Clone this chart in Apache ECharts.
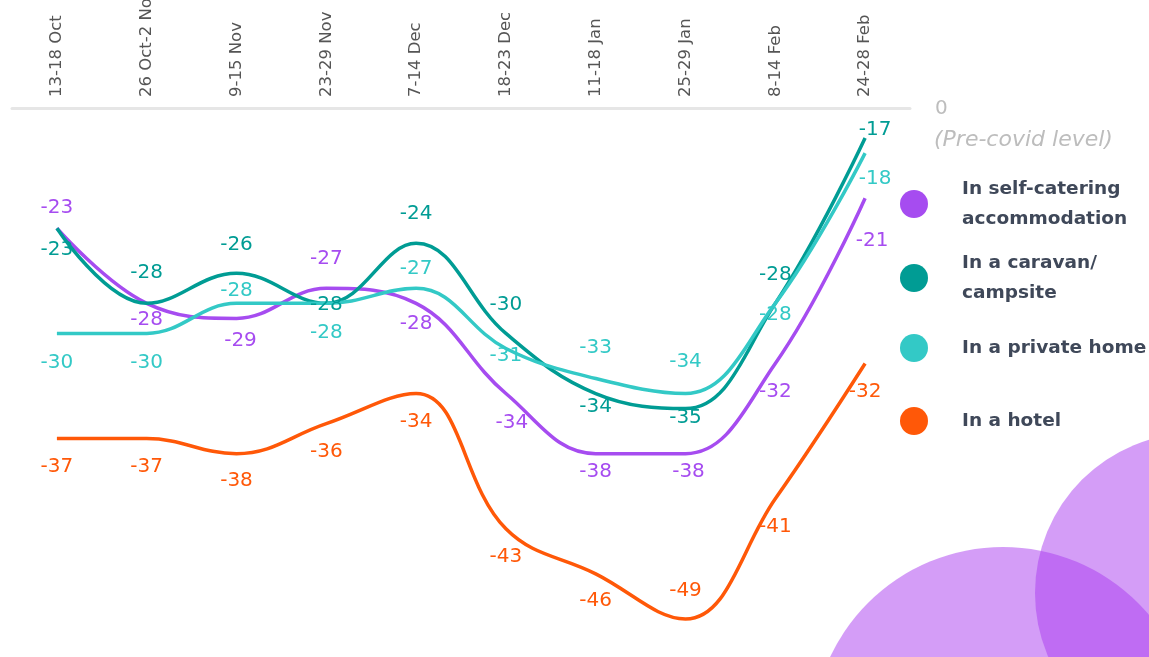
<!DOCTYPE html>
<html>
<head>
<meta charset="utf-8">
<script src="https://cdn.jsdelivr.net/npm/echarts@6/dist/echarts.min.js"></script>
<style>
  html, body { margin: 0; padding: 0; background: #fff; }
  #chart { width: 1149px; height: 657px; }
</style>
</head>
<body>
<div id="chart"></div>
<script>
// weeks surveyed
const categories = ['13-18 Oct', '26 Oct-2 Nov', '9-15 Nov', '23-29 Nov', '7-14 Dec',
  '18-23 Dec', '11-18 Jan', '25-29 Jan', '8-14 Feb', '24-28 Feb'];

// change vs pre-covid level
const selfCatering = [-23, -28, -29, -27, -28, -34, -38, -38, -32, -21];
const caravan = [-23, -28, -26, -28, -24, -30, -34, -35, -28, -17];
const privateHome = [-30, -30, -28, -28, -27, -31, -33, -34, -28, -18];
const hotel = [-37, -37, -38, -36, -34, -43, -46, -49, -41, -32];

// where each value label sits around its point
const selfOff = [[0, -20], [0, 16], [4, 22], [0, -30], [0, 20], [6, 29], [0, 18], [3, 18], [0, 28], [7, 43]];
const caravanOff = [[0, 22], [0, -31], [0, -29], [0, 1], [0, -29], [0, -29], [0, 13], [0, 9], [0, -29], [10, -8]];
const homeOff = [[0, 29], [0, 29], [0, -13], [0, 29], [0, -20], [0, 7], [0, -31], [0, -32], [0, 11], [10, 26]];
const hotelOff = [[0, 28], [0, 28], [0, 27], [0, 28], [0, 28], [0, 28], [0, 27], [0, -28], [0, 28], [0, 28]];

const FONT = '"DejaVu Sans", sans-serif';
const ELLIPSE = 'path://M0,50a50,50 0 1,0 100,0a50,50 0 1,0 -100,0';

function makeSeries(name, values, offsets, color) {
  return {
    name: name,
    type: 'line',
    smooth: 0.4,
    symbol: 'circle',
    symbolSize: 0,
    showSymbol: true,
    lineStyle: { width: 3.5, color: color },
    itemStyle: { color: color },
    label: {
      show: true,
      position: 'inside',
      color: color,
      fontSize: 20,
      fontFamily: FONT,
    },
    data: values.map((v, i) => ({ value: v, label: { offset: offsets[i] } })),
  };
}

function makeLegend(name, top, twoLines) {
  return {
    data: [name],
    left: 900,
    top: top,
    padding: 0,
    orient: 'vertical',
    icon: ELLIPSE,
    itemWidth: 34,
    itemHeight: 28,
    itemStyle: { borderWidth: 0 },
    textStyle: {
      fontFamily: FONT,
      fontSize: 18.5,
      fontWeight: 'bold',
      color: '#3f4859',
      lineHeight: 30,
      padding: twoLines ? [10, 0, 0, 26] : [0, 0, 0, 26],
    },
  };
}

const chart = echarts.init(document.getElementById('chart'));
chart.setOption({
  animation: false,
  backgroundColor: '#fff',
  grid: { left: 12, right: 239, top: 108, bottom: 8, containLabel: false, outerBoundsMode: 'none' },
  xAxis: {
    type: 'category',
    position: 'top',
    boundaryGap: true,
    data: categories,
    axisLine: { lineStyle: { color: '#e6e6e6', width: 3 } },
    axisTick: { show: false },
    axisLabel: {
      rotate: -90,
      margin: 11,
      color: '#555',
      fontSize: 16.5,
      fontFamily: FONT,
    },
  },
  yAxis: {
    type: 'value',
    min: -51,
    max: -15,
    show: false,
    splitLine: { show: false },
  },
  legend: [
    makeLegend('In self-catering\naccommodation', 169, true),
    makeLegend('In a caravan/\ncampsite', 243, true),
    makeLegend('In a private home', 333, false),
    makeLegend('In a hotel', 406, false),
  ],
  graphic: [
    {
      type: 'circle', z: -1, silent: true,
      shape: { cx: 1003, cy: 738, r: 191 },
      style: { fill: 'rgba(170,60,240,0.5)' },
    },
    {
      type: 'circle', z: -1, silent: true,
      shape: { cx: 1195, cy: 593, r: 160 },
      style: { fill: 'rgba(170,60,240,0.5)' },
    },
    {
      type: 'text',
      style: { x: 935, y: 109, text: '0', fill: '#bdbdbd', font: '20px ' + FONT, verticalAlign: 'middle' },
    },
    {
      type: 'text',
      style: { x: 934, y: 140, text: '(Pre-covid level)', fill: '#bdbdbd', font: 'italic 22px ' + FONT, verticalAlign: 'middle' },
    },
  ],
  series: [
    makeSeries('In self-catering\naccommodation', selfCatering, selfOff, '#a64cf0'),
    makeSeries('In a caravan/\ncampsite', caravan, caravanOff, '#009c94'),
    makeSeries('In a private home', privateHome, homeOff, '#33c9c6'),
    makeSeries('In a hotel', hotel, hotelOff, '#ff5808'),
  ],
});
</script>
</body>
</html>
